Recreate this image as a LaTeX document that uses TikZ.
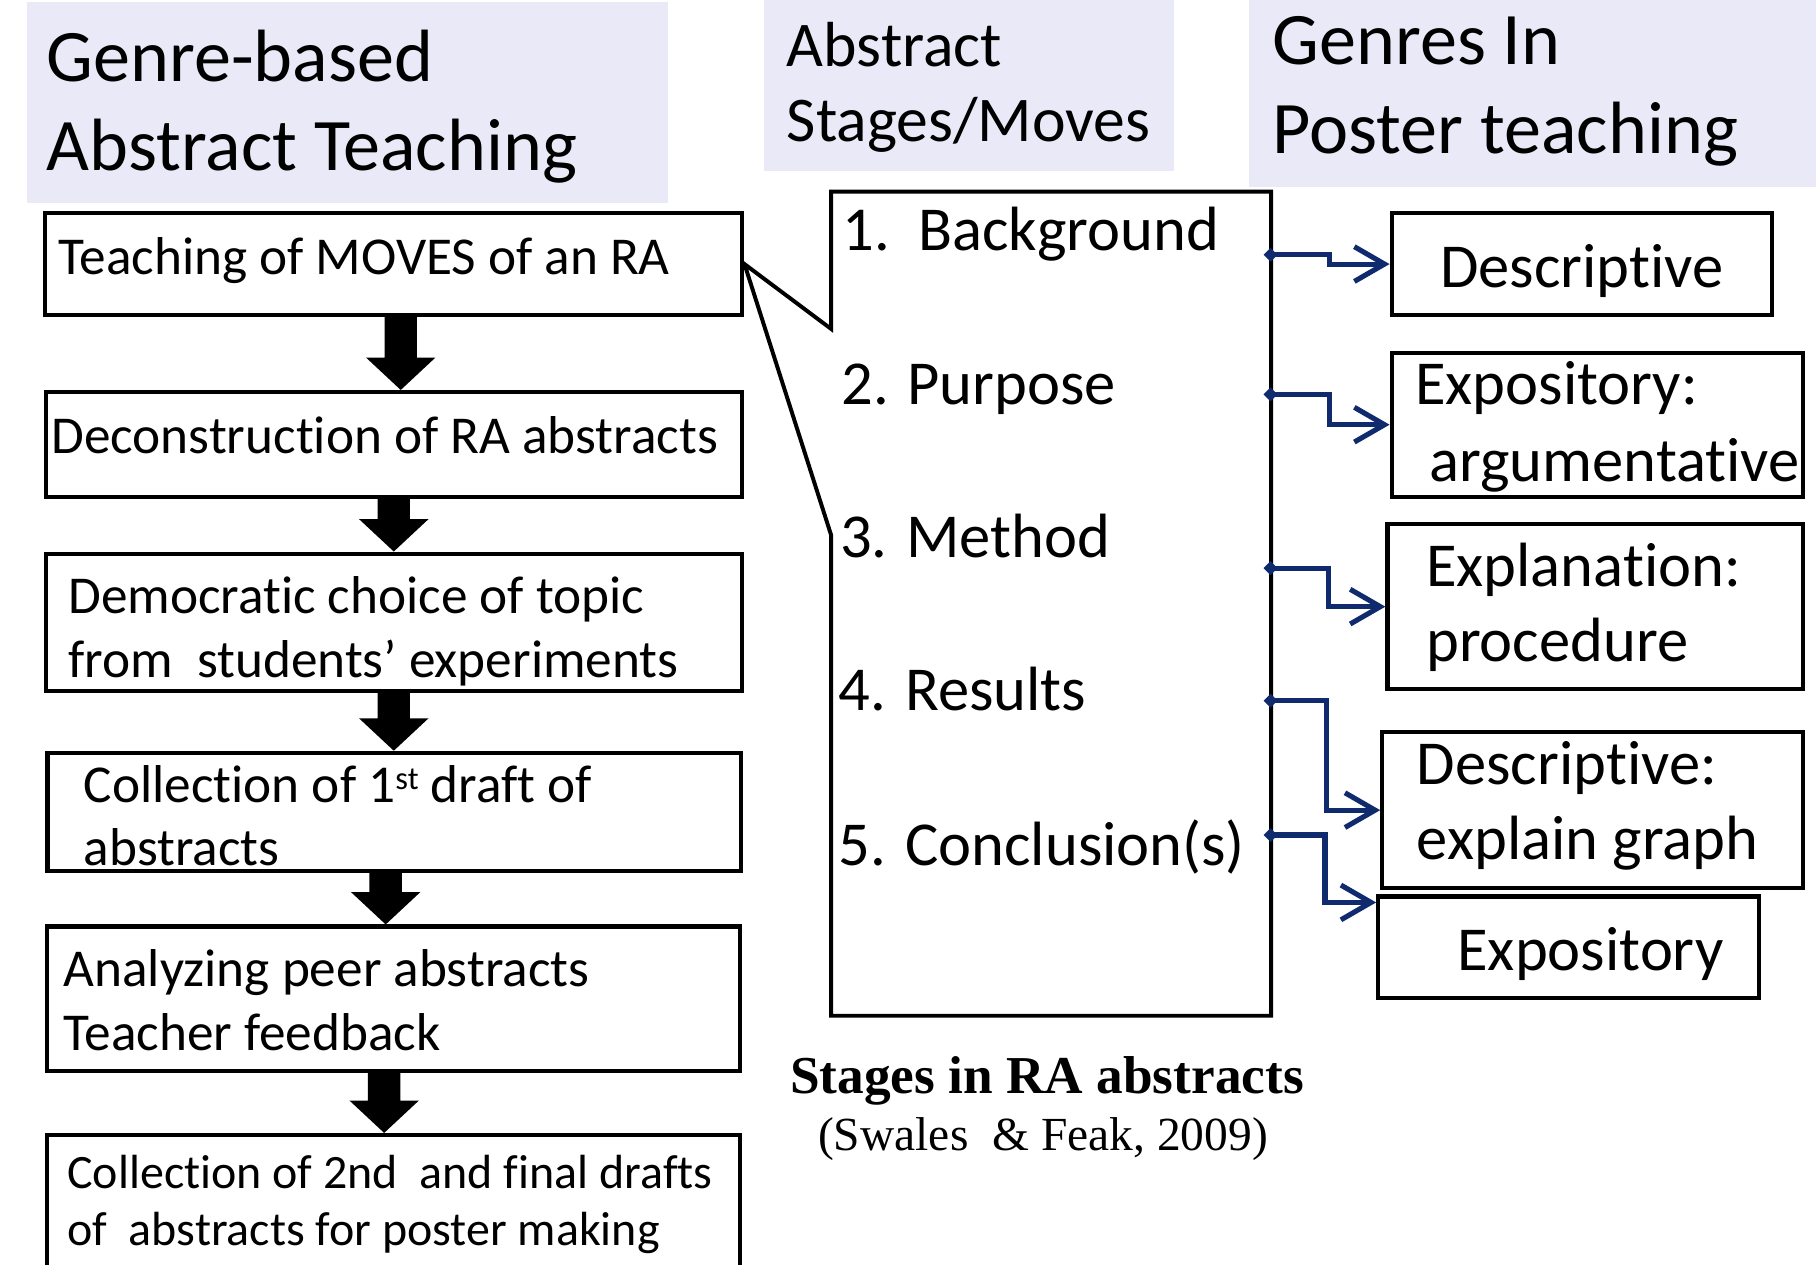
\documentclass[tikz,border=0pt]{standalone}
\usepackage{fontspec}
\setmainfont[Ligatures=NoCommon,Contextuals=NoAlternate]{Carlito}
\newfontfamily\serifcap{Liberation Serif}
\usetikzlibrary{arrows.meta,calc,fit}
\definecolor{lav}{RGB}{233,233,247}
\definecolor{navy}{RGB}{16,42,110}
\newcommand\twoln[3]{\vtop{\baselineskip=#1\relax\lineskiplimit=-100pt\hbox{#2}\hbox{#3}}}
\newcommand\blockarrow[3]{%
  \fill let \p1=(#1.south), \p2=(#2.north) in
   ({#3*0.5pt-7pt},\y1) -- ({#3*0.5pt+7pt},\y1) -- ({#3*0.5pt+7pt},\y2+14pt)
   -- ({#3*0.5pt+15pt},\y2+14pt) -- ({#3*0.5pt},\y2) -- ({#3*0.5pt-15pt},\y2+14pt)
   -- ({#3*0.5pt-7pt},\y2+14pt) -- cycle;}
\begin{document}
\begin{tikzpicture}[x=0.5pt,y=-0.5pt,line join=miter,
  hdr/.style={fill=lav,draw=none,inner sep=0pt,outer sep=0pt},
  box/.style={draw,line width=1.8pt,inner sep=0pt},
  txt/.style={inner sep=0pt,anchor=base west},
  lfont/.style={font=\fontsize{23}{27.5}\selectfont},
  rfont/.style={font=\fontsize{27}{32}\selectfont},
  conn/.style={draw=navy,line width=2.2pt,
    arrows={Diamond[length=6pt,width=6pt,fill=navy]-Straight Barb[length=13pt,width=15pt]}}]
\useasboundingbox (0,0) rectangle (1568,1092);
\fill[white] (0,0) rectangle (1568,1092);
\clip (0,0) rectangle (1568,1092);

% headers
\node[hdr,fit={(23,1.4) (577,175)}] (h1) {};
\node[txt,font=\fontsize{32}{38}\selectfont] (h1t) at (40,70.5) {\twoln{38.2pt}{Genre-based}{Abstract Teaching}};
\node[hdr,fit={(660,0) (1014,148)}] (h2) {};
\node[txt,font=\fontsize{27.5}{32}\selectfont] (h2t) at (679,57.6) {\twoln{32.2pt}{Abstract}{Stages/Moves}};
\node[hdr,fit={(1078.7,0) (1568,161.7)}] (h3) {};
\node[txt,font=\fontsize{32}{38}\selectfont] (h3t) at (1098.5,56) {\twoln{38.2pt}{Genres In}{Poster teaching}};

% left column
\node[box,fit={(38.5,184) (641,272)}] (b1) {};
\node[txt,lfont] (b1t) at (50,236.6) {Teaching of MOVES of an RA};
\node[box,fit={(39.8,338.5) (640.4,429)}] (b2) {};
\node[txt,lfont] (b2t) at (44,391.4) {Deconstruction of RA abstracts};
\node[box,fit={(39.8,478) (640.4,596.6)}] (b3) {};
\node[txt,lfont] (b3t) at (58.6,529.7) {\twoln{27.6pt}{Democratic choice of topic}{from\ \ students’ experiments}};
\node[box,fit={(41,650) (640,752)}] (b4) {};
\node[txt,lfont] (b4t) at (72,692.5) {\twoln{27.3pt}{Collection of 1\raisebox{0.5ex}{\fontsize{14}{14}\selectfont st} draft of}{abstracts}};
\node[box,fit={(40.6,800) (639,924.6)}] (b5) {};
\node[txt,lfont] (b5t) at (54.4,851.5) {\twoln{27.6pt}{Analyzing peer abstracts}{Teacher feedback}};
\node[box,fit={(40.6,980) (639,1110)}] (b6) {};
\node[txt,font=\fontsize{20.7}{24.5}\selectfont] (b6t) at (57.8,1026) {\twoln{24.5pt}{Collection of 2nd\ \ and final drafts}{of\ \ abstracts for poster making}};

\blockarrow{b1}{b2}{346}
\blockarrow{b2}{b3}{340}
\blockarrow{b3}{b4}{340}
\blockarrow{b4}{b5}{333}
\blockarrow{b5}{b6}{331.7}

% middle callout box
\node[inner sep=0pt,outer sep=0pt,fit={(717.6,165.4) (1097.6,877)}] (mid) {};
\coordinate (n1) at (717.6,284);
\coordinate (n2) at (717.6,462);
\draw[line width=1.7pt] (n1) -- (mid.north west) -- (mid.north east) -- (mid.south east)
  -- (mid.south west) -- (n2) -- (b1.east) -- cycle;
\node[txt,rfont] (m1) at (727,216) {1.\ \ Background};
\node[txt,rfont] (m2) at (726,349) {2. Purpose};
\node[txt,rfont] (m3) at (725,481.4) {3. Method};
\node[txt,rfont] (m4) at (724,613.7) {4. Results};
\node[txt,rfont] (m5) at (724,747.5) {5. Conclusion(s)};

\node[txt,font=\serifcap\bfseries\fontsize{23}{27}\selectfont] (cap) at (682,944) {Stages in RA abstracts};
\node[txt,font=\serifcap\fontsize{20.5}{25}\selectfont] (cite) at (706,993.7) {(Swales\ \ \& Feak, 2009)};

% right column
\node[box,fit={(1201.6,184) (1530,272)}] (r1) {};
\node[txt,rfont] (r1t) at (1243,248) {Descriptive};
\node[box,fit={(1201.6,304.6) (1557,428.8)}] (r2) {};
\node[txt,rfont] (r2t) at (1221.6,349.4) {\twoln{33.3pt}{Expository:}{\ argumentative}};
\node[box,fit={(1198,452.6) (1557,595)}] (r3) {};
\node[txt,rfont] (r3t) at (1231,506.4) {\twoln{32.3pt}{Explanation:}{procedure}};
\node[box,fit={(1193.5,632) (1557,767)}] (r4) {};
\node[txt,rfont] (r4t) at (1223,677) {\twoln{32.4pt}{Descriptive:}{explain graph}};
\node[box,fit={(1190,774) (1519,862)}] (r5) {};
\node[txt,rfont] (r5t) at (1258,837.8) {Expository};

% connectors
\coordinate (s1) at (1091,220);
\coordinate (s2) at (1091,340.5);
\coordinate (s3) at (1091,490.5);
\coordinate (s4) at (1091,605);
\coordinate (s5) at (1091,721);
\draw[conn] (s1) -- ++(57,0) |- (r1.west);
\draw[conn] (s2) -- ++(57,0) |- (r2.west);
\draw[conn] (s3) -- ++(56,0) |- (r3.west);
\draw[conn] (s4) -- ++(54,0) |- (r4.west);
\draw[conn] (s5) -- ++(53,0) |- ($(r5.north west)+(0,7)$);
\end{tikzpicture}
\end{document}
